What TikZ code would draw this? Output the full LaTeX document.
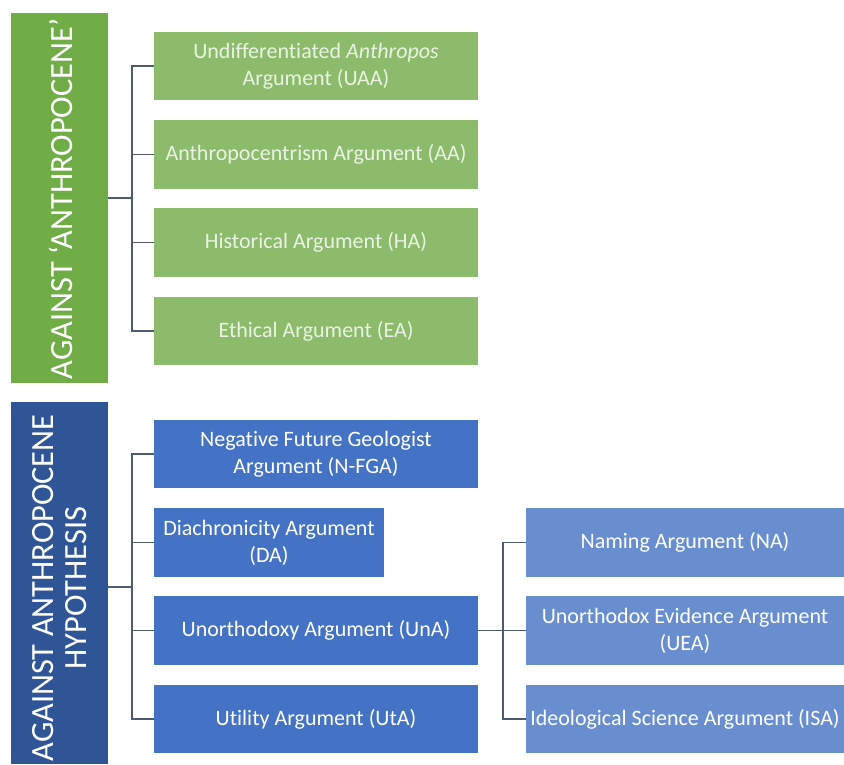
\documentclass[tikz,border=0pt]{standalone}
\usepackage{fontspec}
\setmainfont{Carlito}[Ligatures=NoCommon]
\definecolor{grbar}{HTML}{70AD47}
\definecolor{grbox}{HTML}{8DBB6C}
\definecolor{grtext}{HTML}{EAF3E3}
\definecolor{blbar}{HTML}{2F5597}
\definecolor{blbox}{HTML}{4472C4}
\definecolor{blsub}{HTML}{698ED0}
\definecolor{link}{HTML}{4E5B6E}
\tikzset{
  bar/.style={rectangle, inner sep=0pt, minimum width=97pt},
  bartext/.style={rotate=90, text=white, align=center, inner sep=0pt,
    font=\fontsize{32.4}{33}\selectfont},
  argbox/.style={rectangle, inner sep=0pt, minimum height=68.5pt, align=center,
    font=\fontsize{22}{26.8}\selectfont},
  greenbox/.style={argbox, fill=grbox, text=grtext, minimum width=324pt},
  bluebox/.style={argbox, fill=blbox, text=white, minimum width=324pt},
  subbox/.style={argbox, fill=blsub, text=white, minimum width=318pt},
  tree/.style={draw=link, line width=1.2pt}
}
\begin{document}
\begin{tikzpicture}[x=1pt, y=-1pt]
\useasboundingbox (0,0) rectangle (844,764);
% against 'anthropocene'
\node[bar, fill=grbar, minimum height=370pt] (gbar) at (59.5,198) {};
\node[bartext] at (60.5,199) {AGAINST ‘ANTHROPOCENE’};
\node[greenbox] (uaa) at (316,66) {Undifferentiated \textit{Anthropos}\\Argument (UAA)};
\node[greenbox] (aa) at (316,154.5) {Anthropocentrism Argument (AA)};
\node[greenbox] (ha) at (316,242.5) {Historical Argument (HA)};
\node[greenbox] (ea) at (316,331) {Ethical Argument (EA)};
\coordinate (gj) at (132,198);
\draw[tree] (gbar.east |- gj) -- (gj);
\foreach \b in {uaa,aa,ha,ea}
  \draw[tree] (gj) |- (\b.west);
% against anthropocene hypothesis
\node[bar, fill=blbar, minimum height=362pt] (bbar) at (59.5,583) {};
\node[bartext] at (59.5,588) {AGAINST ANTHROPOCENE\\HYPOTHESIS};
\node[bluebox] (nfga) at (316,454) {Negative Future Geologist\\Argument (N-FGA)};
\node[bluebox, minimum width=230pt] (da) at (269,542.5) {Diachronicity Argument\\(DA)};
\node[bluebox] (una) at (316,630.5) {Unorthodoxy Argument (UnA)};
\node[bluebox] (uta) at (316,719) {Utility Argument (UtA)};
\coordinate (bj) at (132,587);
\draw[tree] (bbar.east |- bj) -- (bj);
\foreach \b in {nfga,da,una,uta}
  \draw[tree] (bj) |- (\b.west);
% unorthodoxy sub-arguments
\node[subbox] (na) at (685,542.5) {Naming Argument (NA)};
\node[subbox] (uea) at (685,630.5) {Unorthodox Evidence Argument\\(UEA)};
\node[subbox] (isa) at (685,719) {Ideological Science Argument (ISA)};
\coordinate (sj) at (503,630.5);
\draw[tree] (una.east) -- (sj);
\foreach \b in {na,uea,isa}
  \draw[tree] (sj) |- (\b.west);
\end{tikzpicture}
\end{document}
